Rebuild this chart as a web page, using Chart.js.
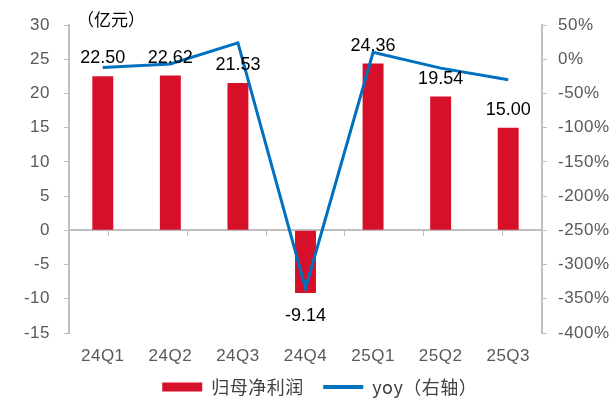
<!DOCTYPE html>
<html>
<head>
<meta charset="utf-8">
<script src="https://cdn.jsdelivr.net/npm/chart.js@4"></script>
<style>
  html, body { margin: 0; padding: 0; background: #fff; }
  #wrap { width: 613px; height: 398px; position: relative; }
</style>
</head>
<body>
<div id="wrap"><canvas id="chart"></canvas></div>
<script>
// data
const quarters = ['24Q1', '24Q2', '24Q3', '24Q4', '25Q1', '25Q2', '25Q3'];
const netProfit = [22.50, 22.62, 21.53, -9.14, 24.36, 19.54, 15.00]; // 亿元
const yoy = [-12, -7, 24, -335, 10, -13, -30]; // %
const seriesNames = ['归母净利润', 'yoy（右轴）'];
const unitLabel = '（亿元）';

const tickFont = { family: 'Liberation Sans, Arial, sans-serif', size: 17 };
const grey = '#595959';
const axisGrey = '#BFBFBF';

// value labels over the bars + the unit text
const barLabels = {
    id: 'barLabels',
    beforeDraw(chart) {
        chart.ctx.letterSpacing = '0.5px';
    },
    afterDatasetsDraw(chart) {
        const ctx = chart.ctx;
        const meta = chart.getDatasetMeta(1); // the bar dataset
        ctx.save();
        ctx.letterSpacing = '0px';
        ctx.font = '18px "Liberation Sans", Arial, sans-serif';
        ctx.fillStyle = '#000';
        ctx.textAlign = 'center';
        ctx.textBaseline = 'alphabetic';
        meta.data.forEach((bar, i) => {
            const v = netProfit[i];
            const y = v >= 0 ? bar.y - 13 : bar.y + 28;
            ctx.fillText(v.toFixed(2), bar.x, y);
        });
        ctx.font = '17px "Noto Sans CJK SC", sans-serif';
        ctx.textAlign = 'left';
        ctx.textBaseline = 'middle';
        ctx.fillText(unitLabel, chart.chartArea.left + 8, 20);
        ctx.restore();
    }
};

const ctx = document.getElementById('chart').getContext('2d');
const chart = new Chart(ctx, {
    data: {
        labels: quarters,
        datasets: [
            {
                type: 'line',
                label: seriesNames[1],
                data: yoy,
                yAxisID: 'y1',
                borderColor: '#0070C0',
                backgroundColor: '#0070C0',
                borderWidth: 3,
                pointRadius: 0,
                tension: 0,
                order: 0
            },
            {
                type: 'bar',
                label: seriesNames[0],
                data: netProfit,
                yAxisID: 'y',
                backgroundColor: '#D7102A',
                barPercentage: 0.62,
                categoryPercentage: 0.5,
                order: 1
            }
        ]
    },
    options: {
        responsive: true,
        maintainAspectRatio: false,
        animation: false,
        // left padding nudges the centred legend right; y axis width shrinks to match
        layout: { padding: { top: 25, left: 20, right: 0, bottom: -8 } },
        plugins: {
            tooltip: { enabled: false },
            legend: {
                position: 'bottom',
                reverse: true,
                labels: {
                    usePointStyle: true,
                    pointStyleWidth: 40,
                    boxHeight: 9,
                    padding: 10,
                    color: '#404040',
                    font: { family: '"Noto Sans CJK SC", sans-serif', size: 18 },
                    generateLabels(chart) {
                        const items = Chart.defaults.plugins.legend.labels.generateLabels(chart);
                        items.forEach(it => {
                            const ds = chart.data.datasets[it.datasetIndex];
                            const isLine = ds.type === 'line';
                            it.pointStyle = isLine ? 'line' : 'rect';
                            it.fillStyle = isLine ? '#0070C0' : '#D7102A';
                            it.strokeStyle = isLine ? '#0070C0' : '#D7102A';
                            it.lineWidth = isLine ? 4 : 0;
                            if (!isLine) it.text += '\u2002';
                        });
                        return items;
                    }
                }
            }
        },
        scales: {
            x: {
                position: 'bottom',
                grid: { display: false, drawTicks: false },
                border: { display: false },
                ticks: { color: grey, font: tickFont, padding: 13 },
                afterFit(scale) { scale.height = 35; }
            },
            x2: {
                type: 'category',
                labels: quarters,
                position: { y: 0 },
                grid: { display: true, drawOnChartArea: false, drawTicks: true, tickLength: 5, color: axisGrey, offset: true },
                border: { display: true, color: axisGrey, width: 2 },
                ticks: { display: false }
            },
            y: {
                position: 'left',
                min: -15,
                max: 30,
                ticks: { stepSize: 5, color: grey, font: tickFont, padding: 14 },
                grid: { drawOnChartArea: false, tickLength: 5, color: axisGrey },
                border: { color: axisGrey, width: 2 },
                afterFit(scale) { scale.width = 49; }
            },
            y1: {
                position: 'right',
                min: -400,
                max: 50,
                ticks: { stepSize: 50, color: grey, font: tickFont, padding: 11, callback: v => v + '%' },
                grid: { drawOnChartArea: false, tickLength: 5, color: axisGrey },
                border: { color: axisGrey, width: 2 },
                afterFit(scale) { scale.width = 71; }
            }
        }
    },
    plugins: [barLabels]
});
</script>
</body>
</html>
